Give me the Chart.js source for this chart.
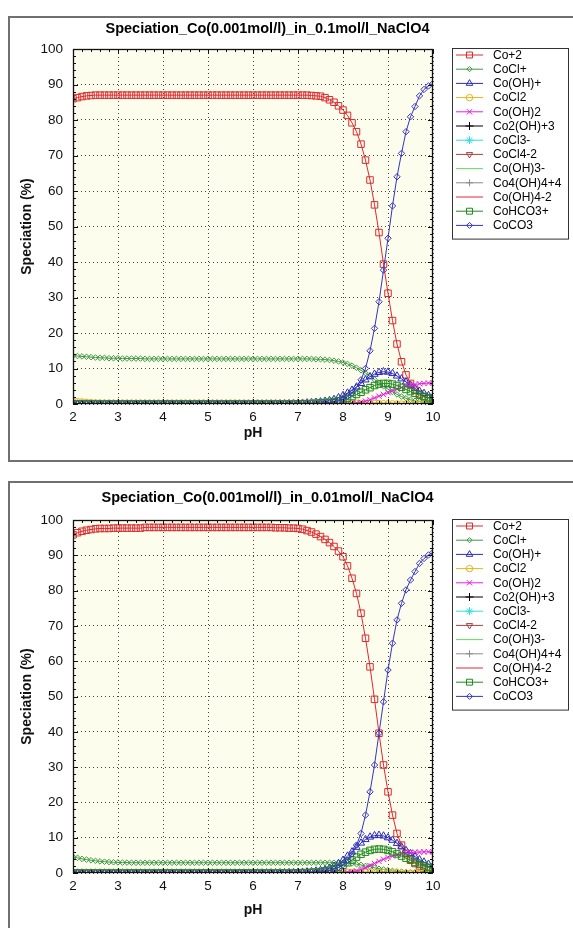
<!DOCTYPE html>
<html>
<head>
<meta charset="utf-8">
<script src="https://cdn.jsdelivr.net/npm/chart.js@4.4.1/dist/chart.umd.min.js"></script>
<style>
  body { margin: 0; background: #fff; width: 573px; height: 928px; overflow: hidden; position: relative; }
  .panel { position: absolute; left: 8px; width: 580px; border: 2px solid #707070; box-sizing: border-box; }
  #p1 { top: 16px; height: 446px; }
  #p2 { top: 481px; height: 460px; }
  canvas { position: absolute; left: 0; }
  #c1 { top: 0; }
  #c2 { top: 465px; }
</style>
</head>
<body>
<div class="panel" id="p1"></div>
<div class="panel" id="p2"></div>
<canvas id="c1" width="573" height="464"></canvas>
<canvas id="c2" width="573" height="463"></canvas>
<script>
var FONT = '"Liberation Sans", Arial, sans-serif';

// pH steps (x)
var pH = [2.0, 2.1, 2.2, 2.3, 2.4, 2.5, 2.6, 2.7, 2.8, 2.9,
          3.0, 3.1, 3.2, 3.3, 3.4, 3.5, 3.6, 3.7, 3.8, 3.9,
          4.0, 4.1, 4.2, 4.3, 4.4, 4.5, 4.6, 4.7, 4.8, 4.9,
          5.0, 5.1, 5.2, 5.3, 5.4, 5.5, 5.6, 5.7, 5.8, 5.9,
          6.0, 6.1, 6.2, 6.3, 6.4, 6.5, 6.6, 6.7, 6.8, 6.9,
          7.0, 7.1, 7.2, 7.3, 7.4, 7.5, 7.6, 7.7, 7.8, 7.9,
          8.0, 8.1, 8.2, 8.3, 8.4, 8.5, 8.6, 8.7, 8.8, 8.9,
          9.0, 9.1, 9.2, 9.3, 9.4, 9.5, 9.6, 9.7, 9.8, 9.9,
          10.0];

var names = ['Co+2', 'CoCl+', 'Co(OH)+', 'CoCl2', 'Co(OH)2', 'Co2(OH)+3', 'CoCl3-', 'CoCl4-2',
             'Co(OH)3-', 'Co4(OH)4+4', 'Co(OH)4-2', 'CoHCO3+', 'CoCO3'];
var colors = ['#dc2a2e', '#3f9a45', '#2a2ac4', '#e6b417', '#e020e0', '#000000', '#30dede', '#a0423f',
              '#5ee05e', '#8c8c8c', '#e0283c', '#1f8a1f', '#3535c0'];
var markers = ['rect', 'rectRot', 'triangle', 'circle', 'crossRot', 'cross', 'star', 'triangle',
               'line', 'cross', 'line', 'rect', 'rectRot'];
var radii = [4.6, 2.8, 4.2, 2.8, 3.8, 0, 0, 0, 0, 0, 0, 4.6, 3.2];
var legendRadii = [4.2, 2.6, 3.8, 3.2, 3.8, 4, 4, 3.6, 0, 3.5, 0, 4.2, 3];

// 0.1 mol/l NaClO4
var a_co = [86.0, 86.3, 86.6, 86.8, 86.9, 87.0, 87.0, 87.0, 87.0, 87.0,
            87, 87, 87, 87, 87, 87, 87, 87, 87, 87,
            87, 87, 87, 87, 87, 87, 87, 87, 87, 87,
            87, 87, 87, 87, 87, 87, 87, 87, 87, 87,
            87, 87, 87, 87, 87, 87, 87, 87, 87, 87,
            87.0, 87.0, 87.0, 86.9, 86.8, 86.7, 86.3, 85.7, 85.0, 84.0,
            82.8, 81.3, 79.2, 76.7, 73.2, 68.7, 63.1, 56.1, 48.3, 39.4,
            31.2, 23.5, 16.9, 11.9, 8.2, 5.8, 3.9, 2.8, 2.1, 1.8,
            1.5];
var a_cocl = [13.6, 13.5, 13.4, 13.3, 13.2, 13.1, 13.0, 13.0, 12.9, 12.9,
              12.9, 12.8, 12.8, 12.8, 12.8, 12.8, 12.7, 12.7, 12.7, 12.7,
              12.7, 12.7, 12.7, 12.7, 12.7, 12.7, 12.7, 12.7, 12.7, 12.7,
              12.7, 12.7, 12.7, 12.7, 12.7, 12.7, 12.7, 12.7, 12.7, 12.7,
              12.7, 12.7, 12.7, 12.7, 12.7, 12.7, 12.7, 12.7, 12.7, 12.7,
              12.7, 12.7, 12.7, 12.7, 12.6, 12.6, 12.5, 12.4, 12.2, 12.0,
              11.7, 11.3, 10.8, 10.2, 9.5, 8.7, 7.8, 6.9, 6.0, 5.0,
              4.2, 3.4, 2.7, 2.1, 1.6, 1.2, 0.9, 0.7, 0.5, 0.35,
              0.25];
var a_cooh = [0, 0, 0, 0, 0, 0, 0, 0, 0, 0,
              0, 0, 0, 0, 0, 0, 0, 0, 0, 0,
              0, 0, 0, 0, 0, 0, 0, 0, 0, 0,
              0, 0, 0, 0, 0, 0, 0, 0, 0, 0,
              0.02, 0.03, 0.03, 0.04, 0.05, 0.06, 0.08, 0.1, 0.13, 0.16,
              0.2, 0.25, 0.32, 0.4, 0.5, 0.63, 0.8, 1.0, 1.3, 1.8,
              2.4, 3.1, 3.9, 4.8, 5.8, 6.8, 7.7, 8.4, 8.9, 9.1,
              9.0, 8.6, 7.9, 7.1, 6.2, 5.3, 4.4, 3.6, 3.0, 2.4,
              2.0];
var a_cocl2 = [0.9, 0.8, 0.7, 0.6, 0.5, 0.45, 0.4, 0.38, 0.36, 0.35,
               0.35, 0.35, 0.35, 0.35, 0.35, 0.35, 0.35, 0.35, 0.35, 0.35,
               0.35, 0.35, 0.35, 0.35, 0.35, 0.35, 0.35, 0.35, 0.35, 0.35,
               0.35, 0.35, 0.35, 0.35, 0.35, 0.35, 0.35, 0.35, 0.35, 0.35,
               0.35, 0.35, 0.35, 0.35, 0.35, 0.35, 0.35, 0.35, 0.35, 0.35,
               0.35, 0.35, 0.35, 0.35, 0.35, 0.35, 0.35, 0.35, 0.35, 0.35,
               0.35, 0.34, 0.33, 0.32, 0.31, 0.3, 0.28, 0.26, 0.24, 0.22,
               0.2, 0.17, 0.14, 0.12, 0.1, 0.08, 0.06, 0.05, 0.04, 0.03,
               0.02];
var a_cooh2 = [0, 0, 0, 0, 0, 0, 0, 0, 0, 0,
               0, 0, 0, 0, 0, 0, 0, 0, 0, 0,
               0, 0, 0, 0, 0, 0, 0, 0, 0, 0,
               0, 0, 0, 0, 0, 0, 0, 0, 0, 0,
               0, 0, 0, 0, 0, 0, 0, 0, 0, 0,
               0, 0, 0, 0, 0, 0, 0, 0, 0, 0,
               0.1, 0.15, 0.2, 0.3, 0.5, 0.8, 1.2, 1.7, 2.2, 2.7,
               3.2, 3.7, 4.2, 4.6, 5.0, 5.3, 5.5, 5.7, 5.8, 5.9,
               6.0];
var a_cohco3 = [0, 0, 0, 0, 0, 0, 0, 0, 0, 0,
                0, 0, 0, 0, 0, 0, 0, 0, 0, 0,
                0, 0, 0, 0, 0, 0, 0, 0, 0, 0,
                0, 0, 0, 0, 0, 0, 0, 0, 0, 0,
                0, 0, 0, 0, 0, 0, 0, 0, 0, 0,
                0.05, 0.08, 0.1, 0.15, 0.2, 0.3, 0.4, 0.5, 0.7, 0.9,
                1.2, 1.6, 2.1, 2.7, 3.3, 4.0, 4.6, 5.2, 5.6, 5.8,
                5.8, 5.6, 5.2, 4.7, 4.1, 3.5, 3.0, 2.5, 2.1, 1.7,
                1.4];
var a_coco3 = [0, 0, 0, 0, 0, 0, 0, 0, 0, 0,
               0, 0, 0, 0, 0, 0, 0, 0, 0, 0,
               0, 0, 0, 0, 0, 0, 0, 0, 0, 0,
               0, 0, 0, 0, 0, 0, 0, 0, 0, 0,
               0, 0, 0, 0, 0, 0, 0, 0, 0, 0,
               0, 0.02, 0.03, 0.05, 0.1, 0.15, 0.25, 0.4, 0.6, 0.9,
               1.4, 2.1, 3.1, 4.6, 6.8, 10.0, 15.0, 21.3, 28.8, 37.7,
               46.7, 55.8, 64.0, 70.6, 76.7, 80.9, 83.8, 86.8, 88.6, 89.6,
               90.3];

// 0.01 mol/l NaClO4
var b_co = [95.8, 96.4, 96.8, 97.1, 97.3, 97.5, 97.6, 97.6, 97.6, 97.7,
            97.7, 97.7, 97.7, 97.7, 97.7, 97.7, 97.9, 97.9, 97.9, 97.9,
            97.9, 97.9, 97.9, 97.9, 97.9, 97.9, 97.9, 97.9, 97.9, 97.9,
            97.9, 97.9, 97.9, 97.9, 97.9, 97.9, 97.9, 97.9, 97.9, 97.9,
            97.9, 97.9, 97.9, 97.9, 97.9, 97.8, 97.8, 97.8, 97.7, 97.7,
            97.6, 97.4, 97.0, 96.6, 96.0, 95.3, 94.5, 93.6, 92.5, 91.2,
            89.6, 87.0, 83.5, 79.2, 73.6, 66.5, 58.4, 49.2, 39.6, 30.6,
            23.0, 16.4, 11.2, 7.9, 5.6, 3.9, 2.7, 2.0, 1.3, 0.8,
            0.5];
var b_cocl = [4.6, 4.3, 4.0, 3.8, 3.6, 3.45, 3.3, 3.2, 3.1, 3.05,
              3.0, 2.95, 2.95, 2.9, 2.9, 2.9, 2.9, 2.9, 2.9, 2.9,
              2.9, 2.9, 2.9, 2.9, 2.9, 2.9, 2.9, 2.9, 2.9, 2.9,
              2.9, 2.9, 2.9, 2.9, 2.9, 2.9, 2.9, 2.9, 2.9, 2.9,
              2.9, 2.9, 2.9, 2.9, 2.9, 2.9, 2.9, 2.9, 2.9, 2.9,
              2.9, 2.9, 2.9, 2.9, 2.9, 2.9, 2.9, 2.9, 2.9, 2.9,
              2.85, 2.8, 2.7, 2.5, 2.3, 2.0, 1.8, 1.5, 1.2, 1.0,
              0.8, 0.6, 0.45, 0.35, 0.25, 0.18, 0.12, 0.08, 0.05, 0.03,
              0.02];
var b_cooh = [0, 0, 0, 0, 0, 0, 0, 0, 0, 0,
              0, 0, 0, 0, 0, 0, 0, 0, 0, 0,
              0, 0, 0, 0, 0, 0, 0, 0, 0, 0,
              0, 0, 0, 0, 0, 0, 0, 0, 0, 0,
              0.02, 0.03, 0.04, 0.05, 0.06, 0.07, 0.09, 0.11, 0.14, 0.17,
              0.2, 0.25, 0.32, 0.42, 0.55, 0.72, 0.95, 1.3, 1.9, 2.7,
              3.6, 4.8, 6.0, 7.3, 8.5, 9.5, 10.2, 10.6, 10.7, 10.5,
              10.0, 9.3, 8.4, 7.4, 6.4, 5.5, 4.6, 3.8, 3.1, 2.5,
              2.0];
var b_cocl2 = [0.25, 0.25, 0.25, 0.25, 0.25, 0.25, 0.25, 0.25, 0.25, 0.25,
               0.25, 0.25, 0.25, 0.25, 0.25, 0.25, 0.25, 0.25, 0.25, 0.25,
               0.25, 0.25, 0.25, 0.25, 0.25, 0.25, 0.25, 0.25, 0.25, 0.25,
               0.25, 0.25, 0.25, 0.25, 0.25, 0.25, 0.25, 0.25, 0.25, 0.25,
               0.25, 0.25, 0.25, 0.25, 0.25, 0.25, 0.25, 0.25, 0.25, 0.25,
               0.25, 0.25, 0.25, 0.25, 0.25, 0.25, 0.25, 0.25, 0.25, 0.25,
               0.25, 0.25, 0.25, 0.25, 0.25, 0.24, 0.23, 0.22, 0.21, 0.2,
               0.18, 0.16, 0.14, 0.11, 0.09, 0.07, 0.05, 0.04, 0.03, 0.02,
               0.02];
var b_cooh2 = [0, 0, 0, 0, 0, 0, 0, 0, 0, 0,
               0, 0, 0, 0, 0, 0, 0, 0, 0, 0,
               0, 0, 0, 0, 0, 0, 0, 0, 0, 0,
               0, 0, 0, 0, 0, 0, 0, 0, 0, 0,
               0, 0, 0, 0, 0, 0, 0, 0, 0, 0,
               0, 0, 0, 0, 0, 0, 0, 0, 0, 0,
               0.15, 0.25, 0.4, 0.6, 1.0, 1.5, 2.1, 2.7, 3.3, 3.9,
               4.4, 4.8, 5.1, 5.4, 5.6, 5.8, 5.9, 5.9, 6.0, 6.0,
               6.0];
var b_cohco3 = [0, 0, 0, 0, 0, 0, 0, 0, 0, 0,
                0, 0, 0, 0, 0, 0, 0, 0, 0, 0,
                0, 0, 0, 0, 0, 0, 0, 0, 0, 0,
                0, 0, 0, 0, 0, 0, 0, 0, 0, 0,
                0, 0, 0, 0, 0, 0, 0, 0, 0, 0,
                0.05, 0.08, 0.12, 0.18, 0.25, 0.4, 0.6, 0.8, 1.2, 1.6,
                2.2, 2.9, 3.7, 4.5, 5.3, 5.9, 6.4, 6.7, 6.8, 6.7,
                6.4, 6.0, 5.4, 4.8, 4.2, 3.6, 3.0, 2.5, 2.0, 1.6,
                1.3];
var b_coco3 = [0, 0, 0, 0, 0, 0, 0, 0, 0, 0,
               0, 0, 0, 0, 0, 0, 0, 0, 0, 0,
               0, 0, 0, 0, 0, 0, 0, 0, 0, 0,
               0, 0, 0, 0, 0, 0, 0, 0, 0, 0,
               0, 0, 0, 0, 0, 0, 0, 0, 0, 0,
               0, 0.02, 0.05, 0.1, 0.2, 0.3, 0.45, 0.7, 1.1, 1.6,
               2.4, 3.6, 5.4, 7.9, 11.2, 16.4, 23.0, 30.6, 39.6, 48.5,
               57.5, 65.1, 71.7, 76.4, 80.2, 83.0, 85.4, 87.7, 89.1, 90.1,
               90.8];

// species that stay at ~0 over the whole range
var zeros = [0, 0, 0, 0, 0, 0, 0, 0, 0, 0,
             0, 0, 0, 0, 0, 0, 0, 0, 0, 0,
             0, 0, 0, 0, 0, 0, 0, 0, 0, 0,
             0, 0, 0, 0, 0, 0, 0, 0, 0, 0,
             0, 0, 0, 0, 0, 0, 0, 0, 0, 0,
             0, 0, 0, 0, 0, 0, 0, 0, 0, 0,
             0, 0, 0, 0, 0, 0, 0, 0, 0, 0,
             0, 0, 0, 0, 0, 0, 0, 0, 0, 0,
             0];

var seriesA = [a_co, a_cocl, a_cooh, a_cocl2, a_cooh2, zeros, zeros, zeros, zeros, zeros, zeros, a_cohco3, a_coco3];
var seriesB = [b_co, b_cocl, b_cooh, b_cocl2, b_cooh2, zeros, zeros, zeros, zeros, zeros, zeros, b_cohco3, b_coco3];

// plot background, boxed frame with inner ticks, title and boxed legend
var framePlugin = {
    id: 'frame',
    beforeDraw: function (chart) {
        var a = chart.chartArea, ctx = chart.ctx;
        ctx.save();
        ctx.fillStyle = '#fdfdee';
        ctx.fillRect(a.left, a.top, a.right - a.left, a.bottom - a.top);
        ctx.restore();
    },
    afterDraw: function (chart, args, opts) {
        var a = chart.chartArea, ctx = chart.ctx;
        var xs = chart.scales.x, ys = chart.scales.y;
        ctx.save();
        ctx.strokeStyle = '#111';
        ctx.lineWidth = 1;
        ctx.beginPath();
        for (var v = 0; v <= 100; v += 2) {
            var y = Math.round(ys.getPixelForValue(v)) + 0.5;
            var len = v % 10 === 0 ? 5 : 3;
            ctx.moveTo(a.left, y); ctx.lineTo(a.left + len, y);
            ctx.moveTo(a.right, y); ctx.lineTo(a.right - len, y);
        }
        for (var k = 0; k <= 40; k++) {
            var x = Math.round(xs.getPixelForValue(2 + k * 0.2)) + 0.5;
            var l2 = k % 5 === 0 ? 5 : 3;
            ctx.moveTo(x, a.top); ctx.lineTo(x, a.top + l2);
            ctx.moveTo(x, a.bottom); ctx.lineTo(x, a.bottom - l2);
        }
        ctx.stroke();
        ctx.lineWidth = 1.3;
        ctx.strokeRect(a.left + 0.5, a.top + 0.5, a.right - a.left - 1, a.bottom - a.top - 1);

        // title
        ctx.fillStyle = '#000';
        ctx.font = 'bold 14.5px ' + FONT;
        ctx.textAlign = 'center';
        ctx.textBaseline = 'middle';
        ctx.fillText(opts.title, opts.titleX, opts.titleY);

        // legend
        var lx = opts.legendX, ly = opts.legendY, step = 14.2;
        var n = chart.data.datasets.length;
        ctx.lineWidth = 1;
        ctx.strokeStyle = '#333';
        ctx.fillStyle = '#fff';
        ctx.fillRect(lx, ly, 116, n * step + 6);
        ctx.strokeRect(lx + 0.5, ly + 0.5, 116, n * step + 6);
        ctx.font = '12px ' + FONT;
        ctx.textAlign = 'left';
        chart.data.datasets.forEach(function (ds, i) {
            var y = ly + 7 + i * step;
            ctx.strokeStyle = ds.borderColor;
            ctx.lineWidth = 1;
            ctx.beginPath();
            ctx.moveTo(lx + 4, y); ctx.lineTo(lx + 31, y);
            ctx.stroke();
            if (legendRadii[i] > 0) {
                ctx.fillStyle = 'rgba(0,0,0,0)';
                Chart.helpers.drawPoint(ctx, {
                    pointStyle: markers[i], rotation: i === 7 ? 180 : 0,
                    radius: legendRadii[i], borderWidth: 1
                }, lx + 17.5, y);
            }
            ctx.fillStyle = '#000';
            ctx.fillText(ds.label, lx + 41, y + 0.5);
        });
        ctx.restore();
    }
};

function makeChart(canvasId, series, lay) {
    var datasets = names.map(function (name, i) {
        return {
            label: name,
            data: series[i].map(function (v, k) { return { x: pH[k], y: v }; }),
            borderColor: colors[i],
            backgroundColor: 'rgba(0,0,0,0)',
            borderWidth: 1,
            pointStyle: markers[i],
            pointRadius: radii[i],
            pointRotation: i === 7 ? 180 : 0,
            pointBorderWidth: 1,
            pointBorderColor: colors[i],
            pointBackgroundColor: 'rgba(0,0,0,0)',
            order: -i,
            tension: 0
        };
    });

    return new Chart(document.getElementById(canvasId), {
        type: 'line',
        data: { datasets: datasets },
        options: {
            responsive: false,
            animation: false,
            events: [],
            layout: { padding: { top: lay.top, right: 140, left: 0, bottom: 0 } },
            plugins: {
                legend: { display: false },
                tooltip: { enabled: false },
                frame: { title: lay.title, titleX: 267.5, titleY: lay.titleY, legendX: 452, legendY: lay.legendY }
            },
            scales: {
                x: {
                    type: 'linear', min: 2, max: 10,
                    ticks: { stepSize: 1, padding: 5, color: '#111', font: { family: FONT, size: 13.5 } },
                    grid: { color: '#444', drawTicks: false },
                    border: { display: false, dash: [1, 3] },
                    title: { display: true, text: 'pH', color: '#111', font: { family: FONT, size: 14, weight: 'bold' },
                             padding: { top: 0, bottom: lay.phPad } },
                    afterFit: function (s) { s.height = lay.xHeight; }
                },
                y: {
                    min: 0, max: 100,
                    ticks: { stepSize: 10, padding: 10, color: '#111', font: { family: FONT, size: 13.5 } },
                    grid: { color: '#444', drawTicks: false },
                    border: { display: false, dash: [1, 3] },
                    title: { display: true, text: 'Speciation (%)', color: '#111', font: { family: FONT, size: 14, weight: 'bold' },
                             padding: { top: 18.6, bottom: 0 } },
                    afterFit: function (s) { s.width = 73; }
                }
            }
        },
        plugins: [framePlugin]
    });
}

makeChart('c1', seriesA, {
    title: 'Speciation_Co(0.001mol/l)_in_0.1mol/l_NaClO4',
    top: 49, xHeight: 60, phPad: 22.6, titleY: 29, legendY: 48
});
makeChart('c2', seriesB, {
    title: 'Speciation_Co(0.001mol/l)_in_0.01mol/l_NaClO4',
    top: 55, xHeight: 55, phPad: 9.6, titleY: 33, legendY: 54
});
</script>
</body>
</html>
